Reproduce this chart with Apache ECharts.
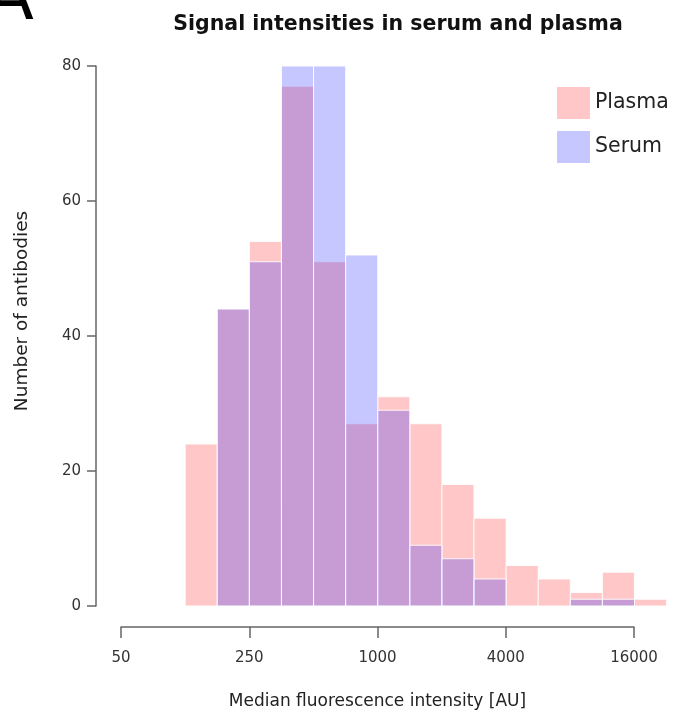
<!DOCTYPE html>
<html>
<head>
<meta charset="utf-8">
<script src="https://cdn.jsdelivr.net/npm/echarts@6/dist/echarts.min.js"></script>
<style>
  html, body { margin: 0; padding: 0; background: #fff; }
  #chart { width: 680px; height: 718px; }
</style>
</head>
<body>
<div id="chart"></div>
<script>
// ---- data (x in log2 units of median fluorescence intensity) ----
const binLowLog2 = [7, 7.5, 8, 8.5, 9, 9.5, 10, 10.5, 11, 11.5, 12, 12.5, 13, 13.5, 14];
const binWidthLog2 = 0.5;
const plasmaCounts = [24, 44, 54, 77, 51, 27, 31, 27, 18, 13, 6, 4, 2, 5, 1];
const serumCounts  = [0, 44, 51, 80, 80, 52, 29, 9, 7, 4, 0, 0, 1, 1, 0];
const tickLog2   = [6, 8, 10, 12, 14];
const tickLabels = ['50', '250', '1000', '4000', '16000'];
const yTicks = [0, 20, 40, 60, 80];

const FONT = 'DejaVu Sans';
const plasmaColor = 'rgba(255,0,0,0.22)';
const serumColor  = 'rgba(0,0,255,0.22)';

function toBins(counts) {
  return binLowLog2.map((b, i) => [b, b + binWidthLog2, counts[i]]);
}

function makeRender(color) {
  return function (params, api) {
    const v = api.value(2);
    if (!v) return null;
    const p0 = api.coord([api.value(0), v]);
    const p1 = api.coord([api.value(1), 0]);
    return {
      type: 'rect',
      shape: { x: p0[0], y: p0[1], width: p1[0] - p0[0], height: p1[1] - p0[1] },
      style: { fill: color, stroke: 'rgba(255,255,255,0.85)', lineWidth: 1 }
    };
  };
}

const chart = echarts.init(document.getElementById('chart'));
const option = {
  animation: false,
  backgroundColor: '#fff',
  title: {
    text: 'Signal intensities in serum and plasma',
    left: 393,
    top: 9,
    textAlign: 'center',
    textStyle: { fontFamily: FONT, fontSize: 20.5, fontWeight: 'bold', color: '#111' }
  },
  legend: {
    orient: 'vertical',
    left: 552,
    top: 82,
    itemWidth: 33,
    itemHeight: 32,
    itemGap: 12,
    icon: 'rect',
    textStyle: { fontFamily: FONT, fontSize: 20.5, color: '#222' },
    data: ['Plasma', 'Serum']
  },
  grid: [
    { left: 121, top: 66, width: 552, height: 540 },
    { left: 121, top: 626, width: 513, height: 1 }
  ],
  xAxis: [
    { gridIndex: 0, type: 'value', min: 6, max: 14.6, show: false },
    {
      gridIndex: 1, type: 'value', min: 6, max: 14, interval: 2,
      position: 'bottom',
      axisLine: { show: true, lineStyle: { color: '#666', width: 1.5 } },
      axisTick: { show: true, length: 11, lineStyle: { color: '#666', width: 1.5 } },
      splitLine: { show: false },
      axisLabel: {
        margin: 24,
        fontFamily: FONT, fontSize: 15, color: '#333',
        formatter: function (v) {
          const i = tickLog2.indexOf(v);
          return i >= 0 ? tickLabels[i] : '';
        }
      },
      name: 'Median fluorescence intensity [AU]',
      nameLocation: 'middle',
      nameGap: 66,
      nameTextStyle: { fontFamily: FONT, fontSize: 17, color: '#222' }
    }
  ],
  yAxis: [
    {
      gridIndex: 0, type: 'value', min: yTicks[0], max: yTicks[yTicks.length - 1], interval: 20,
      offset: 25,
      axisLine: { show: true, lineStyle: { color: '#666', width: 1.5 } },
      axisTick: { show: true, length: 9, lineStyle: { color: '#666', width: 1.5 } },
      splitLine: { show: false },
      axisLabel: { margin: 15, fontFamily: FONT, fontSize: 15, color: '#333' }
    },
    { gridIndex: 1, type: 'value', min: 0, max: 1, show: false }
  ],
  graphic: [
    {
      type: 'text',
      rotation: Math.PI / 2,
      x: 22, y: 311,
      style: {
        text: 'Number of antibodies',
        fontFamily: FONT, fontSize: 18.5, fill: '#222',
        align: 'center', verticalAlign: 'middle'
      }
    },
    {
      type: 'text',
      x: -14, y: 36,
      style: {
        text: 'A',
        fontFamily: FONT, fontSize: 70, fill: '#000',
        align: 'left', verticalAlign: 'bottom'
      }
    }
  ],
  series: [
    {
      name: 'Plasma',
      type: 'custom',
      xAxisIndex: 0, yAxisIndex: 0,
      itemStyle: { color: plasmaColor },
      encode: { x: [0, 1], y: 2 },
      renderItem: makeRender(plasmaColor),
      data: toBins(plasmaCounts)
    },
    {
      name: 'Serum',
      type: 'custom',
      xAxisIndex: 0, yAxisIndex: 0,
      itemStyle: { color: serumColor },
      encode: { x: [0, 1], y: 2 },
      renderItem: makeRender(serumColor),
      data: toBins(serumCounts)
    }
  ]
};
chart.setOption(option);
</script>
</body>
</html>
